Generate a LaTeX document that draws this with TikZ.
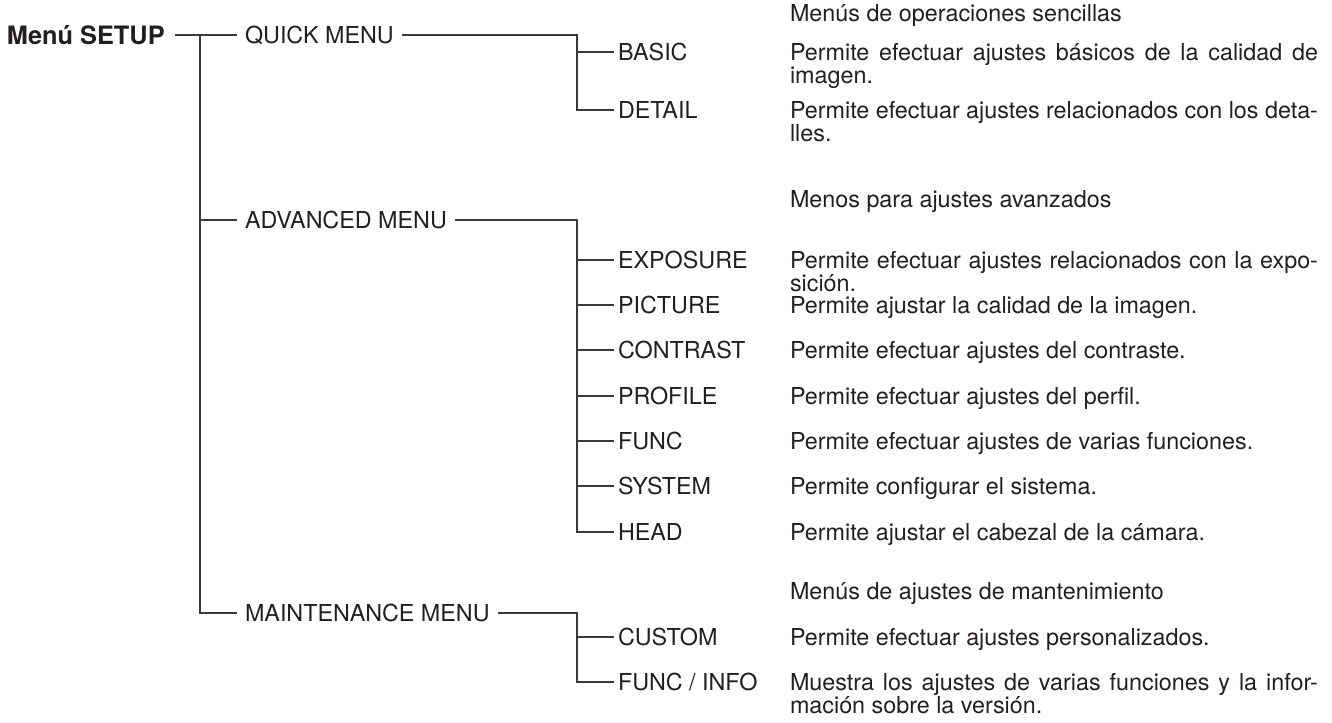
\documentclass[tikz,border=0pt]{standalone}
\usepackage{fontspec}
\setmainfont{TeX Gyre Heros}
\definecolor{txt}{HTML}{231F20}
\definecolor{lin}{HTML}{3A3A3A}
\newcommand\diagfont{\fontsize{17.5pt}{17.4pt}\selectfont}
\newcommand\twolines[2]{\baselineskip=17.4pt\relax #1\linebreak #2}
\begin{document}
\begin{tikzpicture}[x=0.75pt,y=-0.75pt,
  every node/.style={inner sep=0pt, outer sep=0pt, text=txt, font=\diagfont},
  lbl/.style={anchor=west, text height=12.6pt, text depth=0pt},
  root/.style={anchor=west, text height=13.7pt, text depth=0pt, outer xsep=7.5pt, font=\fontsize{19pt}{17.5pt}\selectfont\bfseries},
  menu/.style={lbl, outer xsep=6pt},
  leaf/.style={lbl, outer xsep=3pt},
  desc/.style={anchor=base west, text width=396pt, align=justify},
  hdr/.style={anchor=base west},
  ln/.style={draw=lin, line width=1pt, line join=miter}]
\useasboundingbox (0,0) rectangle (1332,722);

% root and menus
\node[root] (setup) at (-3,35) {Menú SETUP};
\node[menu] (quick) at (237,35) {QUICK MENU};
\node[menu] (adv) at (237,220) {ADVANCED MENU};
\node[menu] (maint) at (237,613) {MAINTENANCE MENU};
\coordinate (t0) at (200,35);
\coordinate (tq) at (577,35);
\coordinate (ta) at (577,220);
\coordinate (tm) at (577,613);

% leaves
\node[leaf] (basic) at (614,52) {BASIC};
\node[leaf] (detail) at (614,110) {DETAIL};
\node[leaf] (expo) at (614,260) {EXPOSURE};
\node[leaf] (pict) at (614,305) {PICTURE};
\node[leaf] (contr) at (614,350) {CONTRAST};
\node[leaf] (prof) at (614,396) {PROFILE};
\node[leaf] (func) at (614,441) {FUNC};
\node[leaf] (sys) at (614,486) {SYSTEM};
\node[leaf] (head) at (614,532) {HEAD};
\node[leaf] (cust) at (614,637) {CUSTOM};
\node[leaf] (finfo) at (614,682) {FUNC / INFO};

% descriptions (baseline = line centre + 8.4)
\node[hdr] (h1) at (790,21.4) {Menús de operaciones sencillas};
\node[desc] (dbasic) at (790,60.4) {\twolines{Permite efectuar ajustes básicos de la calidad de}{imagen.}};
\node[desc] (ddetail) at (790,118.4) {\twolines{Permite efectuar ajustes relacionados con los deta-}{lles.}};
\node[hdr] (h2) at (790,207.4) {Menos para ajustes avanzados};
\node[desc] (dexpo) at (790,268.4) {\twolines{Permite efectuar ajustes relacionados con la expo-}{sición.}};
\node[hdr] (dpict) at (790,313.4) {Permite ajustar la calidad de la imagen.};
\node[hdr] (dcontr) at (790,358.4) {Permite efectuar ajustes del contraste.};
\node[hdr] (dprof) at (790,404.4) {Permite efectuar ajustes del perfil.};
\node[hdr] (dfunc) at (790,449.4) {Permite efectuar ajustes de varias funciones.};
\node[hdr] (dsys) at (790,494.4) {Permite configurar el sistema.};
\node[hdr] (dhead) at (790,540.4) {Permite ajustar el cabezal de la cámara.};
\node[hdr] (h3) at (790,599.4) {Menús de ajustes de mantenimiento};
\node[hdr] (dcust) at (790,645.4) {Permite efectuar ajustes personalizados.};
\node[desc] (dfinfo) at (790,690.4) {\twolines{Muestra los ajustes de varias funciones y la infor-}{mación sobre la versión.}};

% connectors
\draw[ln] (setup.east) -- (quick.west);
\draw[ln] (t0) |- (maint.west);
\draw[ln] (t0 |- adv.west) -- (adv.west);

\draw[ln] (quick.east) -- (tq) |- (detail.west);
\draw[ln] (tq |- basic.west) -- (basic.west);

\draw[ln] (adv.east) -- (ta) |- (head.west);
\foreach \n in {expo,pict,contr,prof,func,sys}
  \draw[ln] (ta |- \n.west) -- (\n.west);

\draw[ln] (maint.east) -- (tm) |- (finfo.west);
\draw[ln] (tm |- cust.west) -- (cust.west);
\end{tikzpicture}
\end{document}
